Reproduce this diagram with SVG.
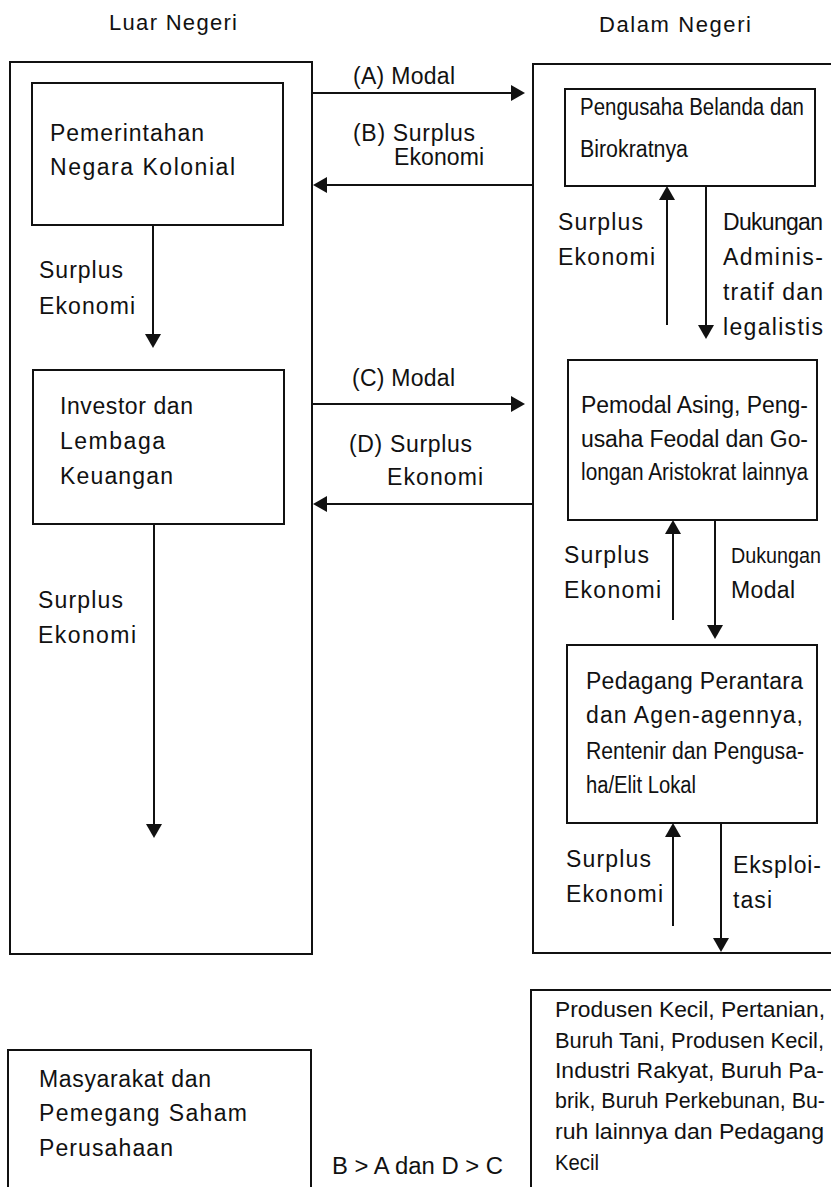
<svg xmlns="http://www.w3.org/2000/svg" width="831" height="1187" viewBox="0 0 831 1187">
<style>
text{font-family:"Liberation Sans",Arial,Helvetica,sans-serif;font-size:23px;fill:#111}
.hd{font-size:22px}
.pk{font-size:21.5px}
.box{fill:none;stroke:#111;stroke-width:2}
.conn line{stroke:#111;stroke-width:2;marker-end:url(#ah)}
</style>
<defs>
<marker id="ah" markerUnits="userSpaceOnUse" markerWidth="14" markerHeight="16" refX="4" refY="8" orient="auto">
<path d="M0,0 L14,8 L0,16 z" fill="#111"/>
</marker>
</defs>
<rect width="831" height="1187" fill="#fff"/>
<g id="headers">
<text class="hd" x="109" y="30" textLength="128">Luar Negeri</text>
<text class="hd" x="599" y="32" textLength="152">Dalam Negeri</text>
</g>
<g id="luar-negeri">
<rect class="box" x="10" y="62" width="302" height="892"/>
</g>
<g id="dalam-negeri">
<rect class="box" x="533" y="64" width="310" height="889"/>
</g>
<g id="pemerintahan">
<rect class="box" x="32" y="83" width="251" height="142"/>
<text x="50" y="141" textLength="154">Pemerintahan</text>
<text x="50" y="175" textLength="185">Negara Kolonial</text>
</g>
<g id="investor">
<rect class="box" x="33" y="370" width="251" height="154"/>
<text x="60" y="414" textLength="133">Investor dan</text>
<text x="60" y="449" textLength="105">Lembaga</text>
<text x="60" y="484" textLength="113">Keuangan</text>
</g>
<g id="pengusaha-belanda">
<rect class="box" x="565" y="89" width="250" height="97"/>
<text x="580" y="115" textLength="224" lengthAdjust="spacingAndGlyphs">Pengusaha Belanda dan</text>
<text x="580" y="157" textLength="108" lengthAdjust="spacingAndGlyphs">Birokratnya</text>
</g>
<g id="pemodal-asing">
<rect class="box" x="568" y="360" width="249" height="160"/>
<text x="581" y="413" textLength="227">Pemodal Asing, Peng-</text>
<text x="581" y="447" textLength="227">usaha Feodal dan Go-</text>
<text x="581" y="480" textLength="227" lengthAdjust="spacingAndGlyphs">longan Aristokrat lainnya</text>
</g>
<g id="pedagang-perantara">
<rect class="box" x="567" y="645" width="250" height="178"/>
<text x="586" y="689" textLength="217">Pedagang Perantara</text>
<text x="586" y="723" textLength="217">dan Agen-agennya,</text>
<text x="586" y="759" textLength="218" lengthAdjust="spacingAndGlyphs">Rentenir dan Pengusa-</text>
<text x="586" y="793" textLength="110" lengthAdjust="spacingAndGlyphs">ha/Elit Lokal</text>
</g>
<g id="masyarakat">
<rect class="box" x="8" y="1050" width="303" height="150"/>
<text x="39" y="1087" textLength="172">Masyarakat dan</text>
<text x="39" y="1121" textLength="208">Pemegang Saham</text>
<text x="39" y="1156" textLength="134">Perusahaan</text>
</g>
<g id="produsen-kecil">
<rect class="box" x="531" y="990" width="310" height="215"/>
<text class="pk" x="555" y="1017" textLength="270" lengthAdjust="spacingAndGlyphs">Produsen Kecil, Pertanian,</text>
<text class="pk" x="555" y="1048" textLength="269" lengthAdjust="spacingAndGlyphs">Buruh Tani, Produsen Kecil,</text>
<text class="pk" x="555" y="1078" textLength="269" lengthAdjust="spacingAndGlyphs">Industri Rakyat, Buruh Pa-</text>
<text class="pk" x="555" y="1108" textLength="270" lengthAdjust="spacingAndGlyphs">brik, Buruh Perkebunan, Bu-</text>
<text class="pk" x="555" y="1139" textLength="269" lengthAdjust="spacingAndGlyphs">ruh lainnya dan Pedagang</text>
<text class="pk" x="555" y="1170" textLength="44" lengthAdjust="spacingAndGlyphs">Kecil</text>
</g>
<g id="note">
<text x="332" y="1174" textLength="171" lengthAdjust="spacingAndGlyphs">B &gt; A dan D &gt; C</text>
</g>
<g id="connectors" class="conn">
<line x1="312" y1="93" x2="515" y2="93"/>
<line x1="533" y1="185" x2="323" y2="185"/>
<line x1="153" y1="225" x2="153" y2="338"/>
<line x1="312" y1="404" x2="515" y2="404"/>
<line x1="533" y1="504" x2="323" y2="504"/>
<line x1="154" y1="524" x2="154" y2="828"/>
<line x1="667" y1="325" x2="667" y2="196"/>
<line x1="706" y1="186" x2="706" y2="329"/>
<line x1="673" y1="620" x2="673" y2="530"/>
<line x1="715" y1="520" x2="715" y2="629"/>
<line x1="673" y1="926" x2="673" y2="833"/>
<line x1="721" y1="823" x2="721" y2="942"/>
</g>
<g id="connector-labels">
<text x="353" y="84" textLength="102">(A) Modal</text>
<text x="353" y="141" textLength="122">(B) Surplus</text>
<text x="394" y="165" textLength="90">Ekonomi</text>
<text x="352" y="386" textLength="103">(C) Modal</text>
<text x="349" y="452" textLength="123">(D) Surplus</text>
<text x="387" y="485" textLength="96">Ekonomi</text>
<text x="39" y="278" textLength="84">Surplus</text>
<text x="39" y="314" textLength="96">Ekonomi</text>
<text x="38" y="608" textLength="85">Surplus</text>
<text x="38" y="643" textLength="98">Ekonomi</text>
<text x="558" y="230" textLength="85">Surplus</text>
<text x="558" y="265" textLength="97">Ekonomi</text>
<text x="723" y="230" textLength="100">Dukungan</text>
<text x="723" y="265" textLength="100">Adminis-</text>
<text x="723" y="300" textLength="100">tratif dan</text>
<text x="723" y="335" textLength="100">legalistis</text>
<text x="564" y="563" textLength="85">Surplus</text>
<text x="564" y="598" textLength="97">Ekonomi</text>
<text x="731" y="563" textLength="90" lengthAdjust="spacingAndGlyphs" style="font-size:21.5px">Dukungan</text>
<text x="731" y="598" textLength="64">Modal</text>
<text x="566" y="867" textLength="85">Surplus</text>
<text x="566" y="902" textLength="97">Ekonomi</text>
<text x="733" y="873" textLength="88">Eksploi-</text>
<text x="733" y="908" textLength="39">tasi</text>
</g>
</svg>
